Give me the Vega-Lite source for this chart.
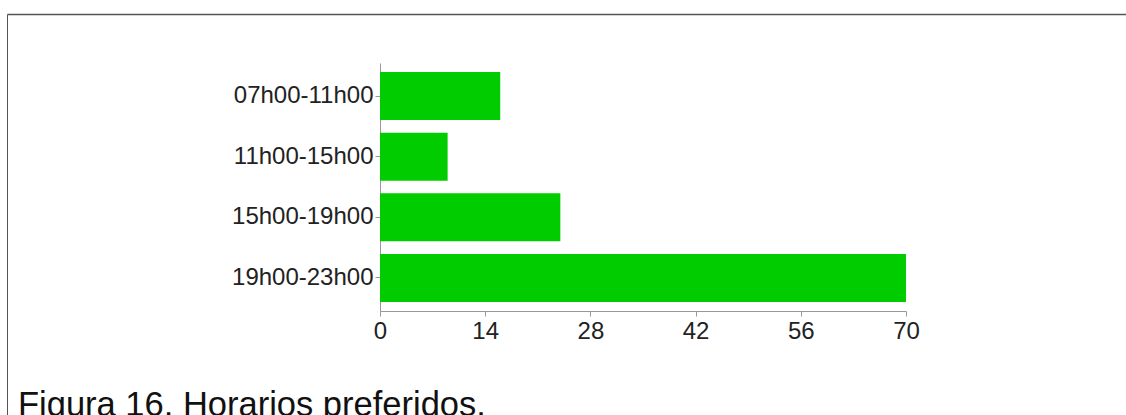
{
  "$schema": "https://vega.github.io/schema/vega-lite/v6.json",
  "autosize": "none",
  "width": 1119,
  "height": 401,
  "padding": {"left": 7, "top": 14, "right": 0, "bottom": 0},
  "background": "white",
  "config": {"view": {"stroke": null}, "font": "Liberation Sans"},
  "title": {
    "text": "Figura 16. Horarios preferidos.",
    "orient": "top",
    "anchor": "start",
    "frame": "group",
    "font": "Liberation Sans",
    "fontSize": 34.5,
    "fontWeight": "normal",
    "color": "#111111",
    "baseline": "alphabetic",
    "offset": 0,
    "dx": 11,
    "dy": 439
  },
  "data": {
    "values": [
      {"horario": "07h00-11h00", "valor": 16},
      {"horario": "11h00-15h00", "valor": 9},
      {"horario": "15h00-19h00", "valor": 24},
      {"horario": "19h00-23h00", "valor": 70}
    ]
  },
  "layer": [
    {
      "mark": {"type": "bar", "color": "#00cc00"},
      "encoding": {
        "y": {
          "field": "horario",
          "type": "nominal",
          "sort": null,
          "scale": {"range": [49, 297], "paddingInner": 0.21, "paddingOuter": 0.15},
          "axis": {
            "orient": "left",
            "offset": -373,
            "title": null,
            "domainColor": "#999999",
            "tickColor": "#999999",
            "tickSize": 5,
            "labelPadding": 2,
            "labelFont": "Liberation Sans",
            "labelFontSize": 24,
            "labelColor": "#222222"
          }
        },
        "x": {
          "field": "valor",
          "type": "quantitative",
          "scale": {"domain": [0, 70], "range": [373, 899], "nice": false, "zero": true},
          "axis": {
            "orient": "bottom",
            "offset": -104,
            "title": null,
            "grid": false,
            "values": [0, 14, 28, 42, 56, 70],
            "labelFlush": false,
            "domainColor": "#999999",
            "tickColor": "#999999",
            "tickSize": 5,
            "labelPadding": 3,
            "labelFont": "Liberation Sans",
            "labelFontSize": 24,
            "labelColor": "#222222"
          }
        }
      }
    },
    {
      "mark": {"type": "point", "opacity": 0},
      "encoding": {
        "x": {
          "field": "valor",
          "type": "quantitative",
          "axis": {
            "orient": "top",
            "title": null,
            "grid": false,
            "ticks": false,
            "labels": false,
            "domainColor": "#555555",
            "domainWidth": 1.5
          }
        },
        "y": {
          "field": "valor",
          "type": "quantitative",
          "axis": {
            "orient": "left",
            "title": null,
            "grid": false,
            "ticks": false,
            "labels": false,
            "domainColor": "#555555",
            "domainWidth": 1
          }
        }
      }
    }
  ],
  "resolve": {
    "scale": {"x": "independent", "y": "independent"},
    "axis": {"x": "independent", "y": "independent"}
  }
}
